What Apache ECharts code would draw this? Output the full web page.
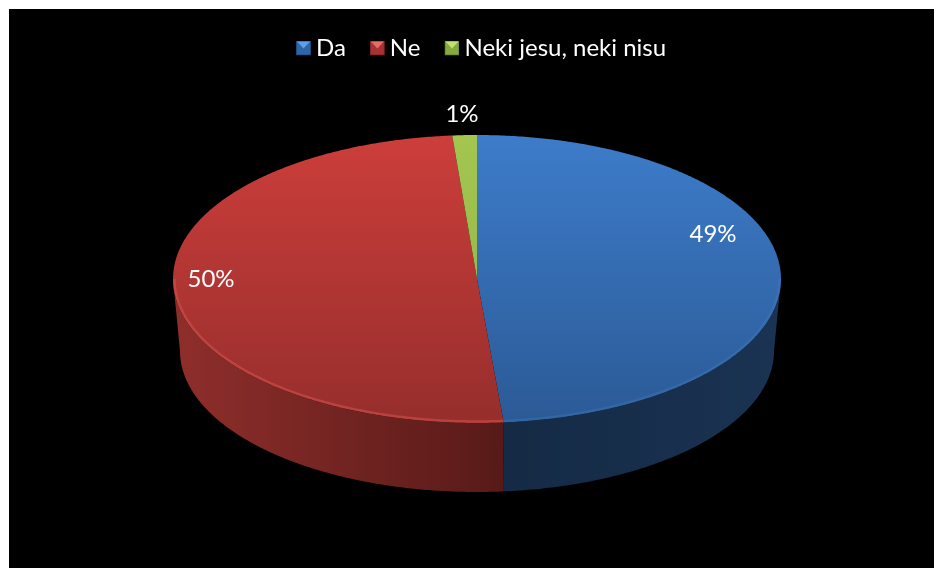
<!DOCTYPE html>
<html>
<head>
<meta charset="utf-8">
<style>
html,body{margin:0;padding:0;background:#fff;overflow:hidden}
#main{position:absolute;left:9px;top:9px;width:925px;height:559px}
</style>
<script src="https://cdn.jsdelivr.net/npm/echarts@6/dist/echarts.min.js"></script>
</head>
<body>
<div id="main"></div>
<script>
const categories = ['Da', 'Ne', 'Neki jesu, neki nisu'];
const shares = [48.6, 50.1, 1.3];

const topColors = [['#3d7cca', '#2b5a96'], ['#cc3e3b', '#962e2c'], ['#a3c650', '#8fae45']];
const wallColors = [['#142a45', '#1a3352'], ['#8e2e2b', '#571a18'], ['#6b8232', '#6b8232']];
const rimColors = ['#4f8bd2', '#d6524e', '#b4d160'];
const rimOpacity = [0.22, 0.55, 0.3];
const iconColors = [['#2f66a8', '#5f9fe6', '#1f4a80'], ['#a83231', '#ea6a66', '#7c2423'], ['#86a83c', '#c4e070', '#64802c']];
const labelAnchors = [[704, 225], [202, 270], [453, 105]];

const TOP = { cx: 468, cy: 270, rx: 304, ry: 144 };
const BASE = { cx: 468, cy: 342, rx: 297, ry: 141 };
const total = shares.reduce((a, b) => a + b, 0);

function point(e, deg) {
  const a = deg * Math.PI / 180;
  return [e.cx + e.rx * Math.sin(a), e.cy - e.ry * Math.cos(a)];
}
function arc(e, from, to) {
  const pts = [];
  const n = Math.max(2, Math.ceil(Math.abs(to - from) * 2));
  for (let i = 0; i <= n; i++) pts.push(point(e, from + (to - from) * i / n));
  return pts;
}
function grad(x, y, x2, y2, c) {
  return { type: 'linear', global: true, x, y, x2, y2,
    colorStops: [{ offset: 0, color: c[0] }, { offset: 1, color: c[1] }] };
}
function icon(c) {
  const svg = `<svg xmlns="http://www.w3.org/2000/svg" width="15" height="15">` +
    `<rect width="15" height="15" fill="${c[2]}"/>` +
    `<rect x="1" y="1" width="13" height="13" fill="${c[0]}"/>` +
    `<path d="M1 1H14L7.5 8Z" fill="${c[1]}"/></svg>`;
  return 'image://data:image/svg+xml;charset=utf-8,' + encodeURIComponent(svg);
}

function renderSlice(index) {
  return function (params, api) {
    const before = shares.slice(0, index).reduce((a, b) => a + b, 0);
    const start = before / total * 360;
    const end = start + api.value(0) / total * 360;
    const children = [];
    const wallFrom = Math.max(start, 90), wallTo = Math.min(end, 270);
    if (wallTo > wallFrom) {
      children.push({
        type: 'polygon', z2: 1, silent: true,
        shape: { points: arc(TOP, wallFrom, wallTo).concat(arc(BASE, wallTo, wallFrom)) },
        style: { fill: index === 0 ? grad(495, 0, 765, 0, wallColors[0]) : grad(170, 0, 495, 0, wallColors[1]) }
      });
    }
    children.push({
      type: 'polygon', z2: 5, silent: true,
      shape: { points: [[TOP.cx, TOP.cy]].concat(arc(TOP, start, end)) },
      style: { fill: grad(0, TOP.cy - TOP.ry, 0, TOP.cy + TOP.ry, topColors[index]) }
    });
    if (wallTo > wallFrom) {
      const inner = { cx: TOP.cx, cy: TOP.cy, rx: TOP.rx - 1.5, ry: TOP.ry - 1.5 };
      children.push({
        type: 'polyline', z2: 6, silent: true,
        shape: { points: arc(inner, wallFrom, wallTo) },
        style: { fill: null, stroke: rimColors[index], lineWidth: 2.5, opacity: rimOpacity[index] }
      });
    }
    const pct = Math.round(api.value(0) / total * 100) + '%';
    children.push({
      type: 'text', z2: 10, silent: true,
      x: labelAnchors[index][0], y: labelAnchors[index][1],
      style: { text: pct, fill: '#fff', font: '24px Lato', align: 'center', verticalAlign: 'middle' }
    });
    return { type: 'group', children };
  };
}

const chart = echarts.init(document.getElementById('main'), null, { renderer: 'canvas' });
chart.setOption({
  animation: false,
  backgroundColor: '#000',
  legend: {
    top: 22, left: 282,
    itemWidth: 15, itemHeight: 15, itemGap: 24, selectedMode: false,
    textStyle: { color: '#fff', fontFamily: 'Lato', fontSize: 24 },
    data: categories.map((name, i) => ({ name, icon: icon(iconColors[i]) }))
  },
  tooltip: { show: false },
  series: categories.map((name, i) => ({
    type: 'custom', name, coordinateSystem: 'none', silent: true,
    itemStyle: { color: topColors[i][0] },
    renderItem: renderSlice(i),
    data: [[shares[i]]]
  }))
});
</script>
</body>
</html>
